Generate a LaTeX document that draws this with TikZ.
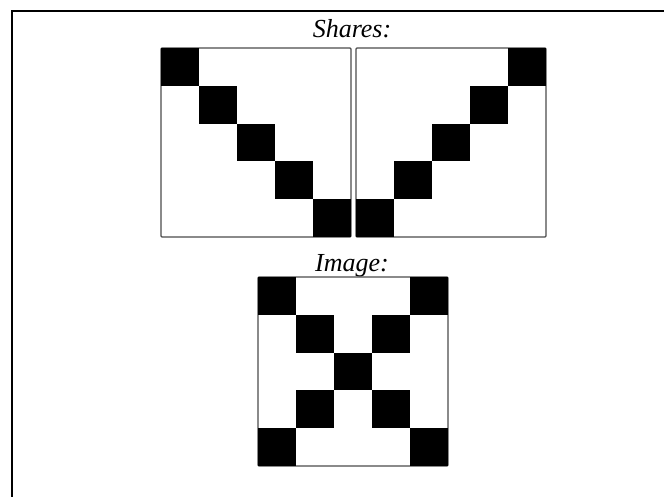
\documentclass[tikz,border=0pt]{standalone}
\usepackage{fontspec}
\setmainfont{Liberation Serif}
\usepackage{tikz}
\usetikzlibrary{positioning}

\begin{document}
\begin{tikzpicture}[x=1pt, y=-1pt,
  frame/.style={draw=black!70, line width=1.2pt, rounded corners=1pt},
  pix/.style={fill=black},
  title/.style={font=\fontsize{26}{30}\selectfont\itshape, inner sep=0pt, anchor=base}]

\useasboundingbox (0,0) rectangle (664,497);

% outer edge lines (top and left only)
\draw[line width=2pt] (12,497) -- (12,11) -- (664,11);

% titles
\node[title] (shares) at (352,38) {Shares:};
\node[title] (image) at (352,272) {Image:};

% share frames
\draw[frame] (161,48) rectangle ++(190,189);
\draw[frame] (356,48) rectangle ++(190,189);
\draw[frame] (258,277) rectangle ++(190,189);

% share pixels
\foreach \i in {0,...,4} {
  \fill[pix] (161+38*\i,48+37.8*\i) rectangle ++(38,37.8);
  \fill[pix] (356+38*4-38*\i,48+37.8*\i) rectangle ++(38,37.8);
}

% stacked image pixels
\foreach \i in {0,...,4} {
  \fill[pix] (258+38*\i,277+37.8*\i) rectangle ++(38,37.8);
  \fill[pix] (258+38*4-38*\i,277+37.8*\i) rectangle ++(38,37.8);
}

\end{tikzpicture}
\end{document}
